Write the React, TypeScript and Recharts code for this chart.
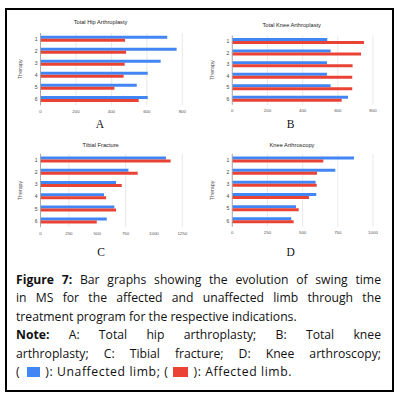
import React from 'react';
import { BarChart, Bar, XAxis, YAxis, CartesianGrid } from 'recharts';

// Swing time (ms) per therapy session
const therapies = ['1', '2', '3', '4', '5', '6'];

const hipUnaffected = [715, 768, 678, 605, 543, 605];
const hipAffected = [477, 483, 475, 469, 417, 554];

const kneeUnaffected = [540, 559, 538, 538, 559, 658];
const kneeAffected = [749, 732, 684, 682, 682, 622];

const tibialUnaffected = [1106, 775, 666, 560, 651, 584];
const tibialAffected = [1147, 857, 716, 578, 666, 496];

const arthroUnaffected = [865, 732, 592, 597, 453, 419];
const arthroAffected = [647, 602, 600, 545, 472, 436];

const ticks800 = [0, 200, 400, 600, 800];
const ticks1250 = [0, 250, 500, 750, 1000, 1250];
const ticks1000 = [0, 250, 500, 750, 1000];

const BLUE = '#4285f4';
const RED = '#ea4335';
const AXIS_FONT = '"Liberation Sans", Arial, sans-serif';

const buildRows = (unaffected: number[], affected: number[]) =>
  therapies.map((t, i) => ({ therapy: t, unaffected: unaffected[i], affected: affected[i] }));

interface PanelProps {
  left: number;
  top: number;
  margin: { top: number; right: number; bottom: number; left: number };
  unaffected: number[];
  affected: number[];
  ticks: number[];
}

const Panel: React.FC<PanelProps> = ({ left, top, margin, unaffected, affected, ticks }) => (
  <div style={{ position: 'absolute', left, top }}>
    <BarChart
      width={200}
      height={120}
      layout="vertical"
      data={buildRows(unaffected, affected)}
      margin={margin}
      barCategoryGap="22%"
      barGap={0}
    >
      <CartesianGrid horizontal={false} stroke="#e3e3e3" strokeWidth={0.8} />
      <XAxis
        type="number"
        domain={[0, ticks[ticks.length - 1]]}
        ticks={ticks}
        height={10}
        axisLine={false}
        tickLine={false}
        tickSize={0}
        tickMargin={4.5}
        tick={{ fontSize: 4.4, fill: '#555', fontFamily: AXIS_FONT }}
      />
      <YAxis
        type="category"
        dataKey="therapy"
        width={40}
        axisLine={{ stroke: '#9a9a9a', strokeWidth: 0.8 }}
        tickLine={false}
        tickSize={0}
        tickMargin={3}
        tick={{ fontSize: 5, fill: '#444', fontFamily: AXIS_FONT }}
        label={{ value: 'Therapy', angle: -90, position: 'center', fontSize: 5.3, fill: '#555', fontFamily: AXIS_FONT }}
      />
      <Bar dataKey="unaffected" fill={BLUE} isAnimationActive={false} />
      <Bar dataKey="affected" fill={RED} isAnimationActive={false} />
    </BarChart>
  </div>
);

const Title: React.FC<{ x: number; y: number; text: string }> = ({ x, y, text }) => (
  <div
    style={{
      position: 'absolute', left: x, top: y, transform: 'translate(-50%, -50%)',
      fontFamily: AXIS_FONT, fontSize: 5.7, color: '#222', whiteSpace: 'nowrap', lineHeight: 1,
    }}
  >
    {text}
  </div>
);

const Letter: React.FC<{ x: number; y: number; text: string }> = ({ x, y, text }) => (
  <div
    style={{
      position: 'absolute', left: x, top: y, transform: 'translate(-50%, -50%)',
      fontFamily: '"Liberation Serif", "DejaVu Serif", serif', fontSize: 11.5, color: '#111', lineHeight: 1,
    }}
  >
    {text}
  </div>
);

const Swatch: React.FC<{ color: string; w: number; gapLeft: number }> = ({ color, w, gapLeft }) => (
  <span
    style={{
      display: 'inline-block', width: w, height: 10, background: color,
      verticalAlign: '-1px', marginLeft: gapLeft, marginRight: 5,
    }}
  />
);

const lineStyle = (justify: boolean): React.CSSProperties => ({
  height: 18.6,
  lineHeight: '18.6px',
  whiteSpace: 'nowrap',
  textAlign: justify ? 'justify' : 'left',
  textAlignLast: justify ? 'justify' : 'left',
});

const App: React.FC = () => (
  <div style={{ position: 'absolute', left: 0, top: 0, width: 400, height: 399, background: '#fff', overflow: 'hidden' }}>
    <div
      style={{
        position: 'absolute', left: 5, top: 8, width: 388.5, height: 384,
        border: '2px solid #000', boxSizing: 'border-box',
      }}
    />

    <Panel left={0} top={0} margin={{ top: 33, right: 17.7, bottom: 4.7, left: 0.5 }}
      unaffected={hipUnaffected} affected={hipAffected} ticks={ticks800} />
    <Panel left={190} top={0} margin={{ top: 35.5, right: 17, bottom: 5.2, left: 2.3 }}
      unaffected={kneeUnaffected} affected={kneeAffected} ticks={ticks800} />
    <Panel left={0} top={128} margin={{ top: 25.9, right: 17.7, bottom: 10.9, left: 0.5 }}
      unaffected={tibialUnaffected} affected={tibialAffected} ticks={ticks1250} />
    <Panel left={190} top={128} margin={{ top: 25.9, right: 17, bottom: 11.2, left: 2.3 }}
      unaffected={arthroUnaffected} affected={arthroAffected} ticks={ticks1000} />

    <Title x={100.5} y={23.3} text="Total Hip Arthroplasty" />
    <Title x={291.7} y={26} text="Total Knee Arthroplasty" />
    <Title x={100.7} y={146} text="Tibial Fracture" />
    <Title x={292} y={146} text="Knee Arthroscopy" />

    <Letter x={100} y={125} text="A" />
    <Letter x={290.7} y={125} text="B" />
    <Letter x={101} y={253.3} text="C" />
    <Letter x={290.7} y={253.3} text="D" />

    <div
      style={{
        position: 'absolute', left: 16, top: 270.5, width: 365,
        fontFamily: '"Open Sans", sans-serif', fontSize: 12.2, color: '#111',
      }}
    >
      <div style={lineStyle(true)}><b>Figure 7:</b> Bar graphs showing the evolution of swing time</div>
      <div style={lineStyle(true)}>in MS for the affected and unaffected limb through the</div>
      <div style={lineStyle(false)}>treatment program for the respective indications.</div>
      <div style={lineStyle(true)}><b>Note:</b> A: Total hip arthroplasty; B: Total knee</div>
      <div style={lineStyle(true)}>arthroplasty; C: Tibial fracture; D: Knee arthroscopy;</div>
      <div style={{ ...lineStyle(false), letterSpacing: 0.6 }}>
        (<Swatch color={BLUE} w={13} gapLeft={7} />): Unaffected limb; (<Swatch color={RED} w={15} gapLeft={5} />): Affected limb.
      </div>
    </div>
  </div>
);

export default App;
